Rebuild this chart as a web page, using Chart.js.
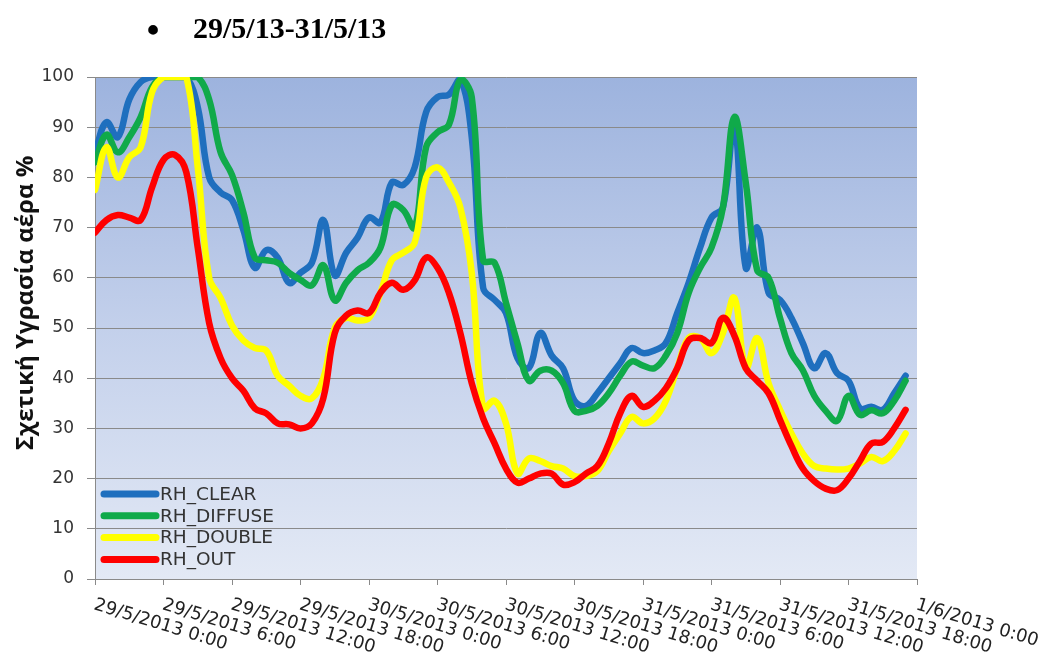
<!DOCTYPE html>
<html>
<head>
<meta charset="utf-8">
<script src="https://cdn.jsdelivr.net/npm/chart.js@4"></script>
<style>
  html, body { margin: 0; padding: 0; background: #ffffff; }
  #wrap { width: 1047px; height: 657px; position: relative; }
</style>
</head>
<body>
<div id="wrap"><canvas id="c" width="1047" height="657"></canvas></div>
<script>
const chartTitle = '29/5/13-31/5/13';
const yAxisTitle = 'Σχετική Υγρασία αέρα %';
const seriesNames = ['RH_CLEAR', 'RH_DIFFUSE', 'RH_DOUBLE', 'RH_OUT'];
const seriesColors = ['#1f6fbe', '#10aa4a', '#ffff00', '#ff0000'];
const xTickLabels = ['29/5/2013 0:00', '29/5/2013 6:00', '29/5/2013 12:00', '29/5/2013 18:00',
  '30/5/2013 0:00', '30/5/2013 6:00', '30/5/2013 12:00', '30/5/2013 18:00',
  '31/5/2013 0:00', '31/5/2013 6:00', '31/5/2013 12:00', '31/5/2013 18:00', '1/6/2013 0:00'];

const hours = [0,1,2,3,4,5,6,7,8,9,10,11,12,13,14,15,16,17,18,19,20,21,22,23,
  24,25,26,27,28,29,30,31,32,33,34,35,36,37,38,39,40,41,42,43,44,45,46,47,
  48,49,50,51,52,53,54,55,56,57,58,59,60,61,62,63,64,65,66,67,68,69,70,71];

const rhClear = [85,91,88,95.5,99,100,100,100,100,94,
  80,77,75.5,69.5,62,65.5,64,59,61,63,
  71.5,60.5,65,68,72,71,79,78.5,82,93,
  96,96.5,99.5,88,58,55.6,53,44,42,49,
  44.5,42,35.5,34.5,37,40,43,46,45,45.5,
  47,53,59,66,72,74,91,62,70,57,
  55.6,52,47,42,45,41,39.5,34,34.3,33.7,
  37,40.5];
const rhDiffuse = [83,88.5,85,88,92,98,100,100,100,100,
  95.5,85,80.5,73,64,63.5,63,61,59.6,58.5,
  62.5,55.5,59,61.5,63,66,74.5,73.5,70,86,
  89,90.5,99.5,96,63.5,63,55,47,39.5,41.5,
  41.5,39,33.5,33.5,34.5,37,40.5,43.3,42.5,42,
  44.5,49,57,62,66,74,92,79,61.5,60,
  52,45,41.6,36.5,33.5,31.5,36.5,32.7,33.6,33,
  35.5,39.5];
const rhDouble = [77.5,86,80,84,86,97,100,100,100,82,
  60,56,50.5,47.5,46,45.5,40.5,38.5,36.5,36,
  40,50,52,51.5,52,57,63.5,65,67,80,
  82,79,74,61,34,35.5,31,21,24,23.5,
  22.5,22,20.5,20.5,21.5,25.5,29,32.3,31,32,
  35.5,42,48,48,45,49,56,42,48,39,
  33.7,29,25,22.5,22,21.8,22,23,24.3,23.5,
  25.5,29];
const rhOut = [69,71.5,72.5,72,71.5,78,83.5,84.5,81,66,
  51,44,40,37.5,34,33,31,30.8,30,31,
  36,49,52.5,53.5,53,57,59,57.6,59.5,64,
  62,57,49,39,32,27,22,19.2,20,21,
  21,18.8,19.3,21,22.5,27,33,36.5,34.3,35.5,
  38,42,47.5,48,47,52,48.5,42,39.5,37,
  31.7,26.5,22,19.5,18,17.7,20,23.5,27,27.3,
  30,33.7];

const seriesValues = [rhClear, rhDiffuse, rhDouble, rhOut];

const datasets = seriesNames.map((name, k) => ({
  label: name,
  data: hours.map((h, i) => ({ x: h, y: seriesValues[k][i] })),
  borderColor: seriesColors[k],
  backgroundColor: seriesColors[k],
  borderWidth: 6.5,
  pointRadius: 0,
  tension: 0.4,
  borderCapStyle: 'round',
  borderJoinStyle: 'round',
  fill: false,
  order: 4 - k
}));

const decor = {
  id: 'decor',
  beforeDraw(chart) {
    const { ctx, chartArea: a } = chart;
    ctx.save();
    const g = ctx.createLinearGradient(0, a.top, 0, a.bottom);
    g.addColorStop(0, '#9db3de');
    g.addColorStop(0.5, '#c3d0eb');
    g.addColorStop(1, '#e3e9f5');
    ctx.fillStyle = g;
    ctx.fillRect(a.left, a.top, a.right - a.left, a.bottom - a.top);
    ctx.restore();
  },
  afterDraw(chart) {
    const { ctx, chartArea: a } = chart;
    const xs = chart.scales.x;
    // x tick labels (rotated clockwise)
    ctx.save();
    ctx.fillStyle = '#222';
    ctx.font = '18px "DejaVu Sans"';
    ctx.textAlign = 'left';
    ctx.textBaseline = 'top';
    xs.ticks.forEach((t, i) => {
      const px = xs.getPixelForTick(i);
      ctx.save();
      ctx.translate(px + 2, a.bottom + 17);
      ctx.rotate(17 * Math.PI / 180);
      ctx.fillText(xTickLabels[i], 0, 0);
      ctx.restore();
    });
    ctx.restore();

    // y axis title
    ctx.save();
    ctx.translate(26, 303);
    ctx.rotate(-Math.PI / 2);
    ctx.font = 'bold 24px "Open Sans"';
    ctx.fillStyle = '#111';
    ctx.textAlign = 'center';
    ctx.textBaseline = 'middle';
    ctx.fillText(yAxisTitle, 0, 0);
    ctx.restore();

    // legend
    ctx.save();
    ctx.font = '18.5px "DejaVu Sans"';
    ctx.textBaseline = 'middle';
    ctx.textAlign = 'left';
    seriesNames.forEach((name, k) => {
      const y = a.bottom - 85 + k * 21.8;
      ctx.strokeStyle = seriesColors[k];
      ctx.lineWidth = 7;
      ctx.lineCap = 'round';
      ctx.beginPath();
      ctx.moveTo(a.left + 9, y);
      ctx.lineTo(a.left + 61, y);
      ctx.stroke();
      ctx.fillStyle = '#333';
      ctx.fillText(name, a.left + 65, y + 1);
    });
    ctx.restore();

    // main title
    ctx.save();
    ctx.fillStyle = '#000';
    ctx.font = 'bold 36px "Liberation Serif"';
    ctx.textAlign = 'center';
    ctx.textBaseline = 'alphabetic';
    ctx.fillText('•', 153, 42);
    ctx.font = 'bold 30px "Liberation Serif"';
    ctx.textAlign = 'left';
    ctx.fillText(chartTitle, 193, 38);
    ctx.restore();
  }
};

new Chart(document.getElementById('c'), {
  type: 'line',
  data: { datasets },
  plugins: [decor],
  options: {
    responsive: false,
    devicePixelRatio: 1,
    animation: false,
    layout: { padding: { left: 0, right: 130, top: 77, bottom: 0 } },
    plugins: { legend: { display: false }, tooltip: { enabled: false }, title: { display: false } },
    scales: {
      x: {
        type: 'linear',
        min: 0, max: 72,
        ticks: {
          stepSize: 6,
          color: 'rgba(0,0,0,0)',
          maxRotation: 0, minRotation: 0,
          autoSkip: false,
          callback: (v) => xTickLabels[v / 6] || ''
        },
        grid: { drawOnChartArea: false, drawTicks: true, tickLength: 6, color: '#8a8a8a' },
        border: { display: true, color: '#8a8a8a', width: 1 },
        afterFit: (s) => { s.height = 78; }
      },
      y: {
        min: 0, max: 100,
        ticks: {
          stepSize: 10,
          color: '#333',
          font: { family: 'DejaVu Sans', size: 17 },
          padding: 13
        },
        grid: { color: '#8a8a8a', tickLength: 8, lineWidth: 1 },
        border: { display: true, color: '#8a8a8a', width: 1 },
        afterFit: (s) => { s.width = 95; }
      }
    }
  }
});
</script>
</body>
</html>
